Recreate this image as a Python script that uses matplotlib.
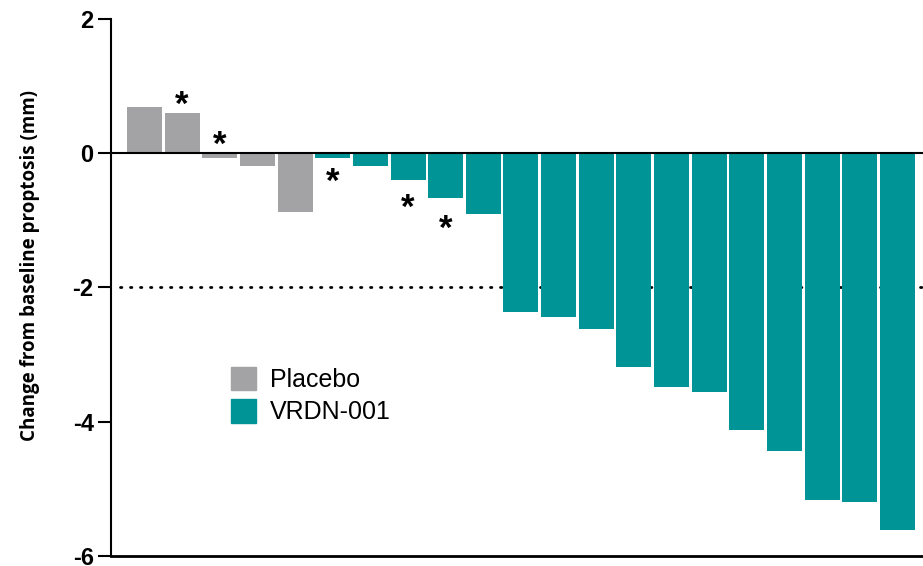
import numpy as np
import matplotlib
matplotlib.use("Agg")
import matplotlib.pyplot as plt
from matplotlib.patches import Patch

# values (mm change from baseline), one bar per patient
groups = ["Placebo"] * 5 + ["VRDN-001"] * 16
values = [0.69, 0.60, -0.07, -0.19, -0.88,
          -0.07, -0.19, -0.40, -0.67, -0.91,
          -2.36, -2.44, -2.62, -3.19, -3.49, -3.55,
          -4.12, -4.43, -5.16, -5.20, -5.61]
starred = [1, 2, 5, 7, 8]
yticks = [2, 0, -2, -4, -6]
threshold = -2

colors = {"Placebo": "#A3A2A5", "VRDN-001": "#009497"}

fig = plt.figure(figsize=(9.23, 5.66), dpi=100)
ax = fig.add_axes([0.1203, 0.0177, 0.8797, 0.9488])

x = np.arange(len(values))
ax.bar(x, values, width=0.93, color=[colors[g] for g in groups], zorder=2)

ax.axhline(0, color="black", lw=1.5, zorder=3)
ax.plot([-0.65, 20.68], [threshold, threshold], color="black", lw=2,
        linestyle=(0, (0.5, 3.1)), dash_capstyle="round", zorder=1)

# asterisks: above the bar for the first two placebo, below the bar otherwise
for i in starred:
    v = values[i]
    if i < 3:
        y = max(v, 0) + 0.12
    else:
        y = v - 0.36 - 0.1 * (i - 5) / 3
    ax.text(x[i], y, "*", ha="center", va="center", fontsize=25,
            fontweight="bold", family="Liberation Sans")

ax.set_xlim(-0.89, 20.68)
ax.set_ylim(-6, 2)
ax.set_yticks(yticks)
ax.set_yticklabels([str(t) if t >= 0 else "-" + str(-t) for t in yticks],
                   fontsize=17, fontweight="bold", family="Liberation Sans")
ax.set_xticks([])
ax.tick_params(axis="y", length=9.5, width=1.5, pad=3)
for s in ["top", "right"]:
    ax.spines[s].set_visible(False)
ax.spines["left"].set_linewidth(1.5)
ax.spines["bottom"].set_linewidth(2)

ax.set_ylabel("Change from baseline proptosis (mm)", fontsize=13.5,
              fontweight="bold", family="Open Sans")
ax.yaxis.set_label_coords(-0.087, 0.54)

handles = [Patch(color=colors["Placebo"], label="Placebo"),
           Patch(color=colors["VRDN-001"], label="VRDN-001")]
leg = ax.legend(handles=handles, loc="upper left", bbox_to_anchor=(0.136, 0.371),
                frameon=False, handlelength=1.0, handleheight=1.05,
                handletextpad=0.55, labelspacing=0.3, borderaxespad=0,
                prop={"family": "Liberation Sans", "size": 18})

fig.savefig("out.png", dpi=100)
